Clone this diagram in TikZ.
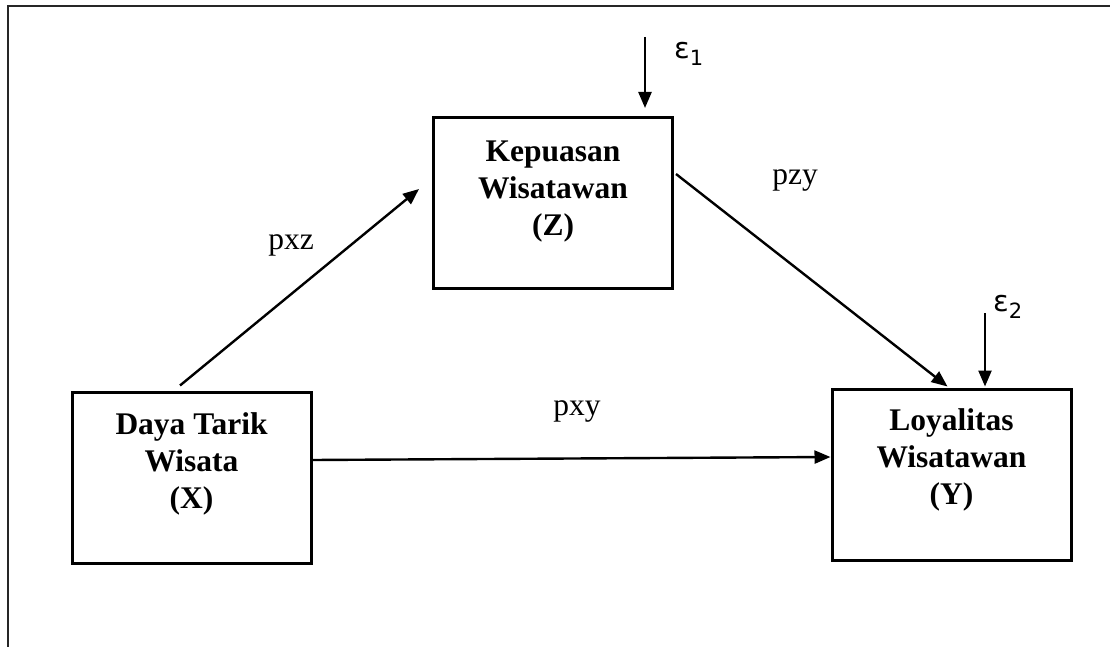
\documentclass[tikz,border=0pt]{standalone}
\usepackage{fontspec}
\setmainfont{Liberation Serif}
\newfontfamily\epsfont{DejaVu Sans}
\usepackage{tikz}
\usetikzlibrary{                          % TikZ libraries
                positioning,              % .
                arrows.meta,              % .
                calc}

\newcommand{\epsi}[1]{{\epsfont\fontsize{29}{29}\selectfont ε\raisebox{-7pt}{\fontsize{21}{21}\selectfont #1}}}

\begin{document}
\begin{tikzpicture}[x=1pt,y=-1pt
                    ]
                % define styles
\tikzset{var/.style={rectangle,
                       draw=black,
                       line width=3pt,
                       minimum width=239pt,
                       minimum height=171pt,
                       inner sep=0,
                       },
         vartext/.style={align=center,
                       inner sep=0,
                       font=\bfseries\fontsize{31.5}{37}\selectfont,
                       },
         path/.style={line width=2.4pt,
                       -{Triangle[length=16pt,width=13pt]},
                       },
         coef/.style={anchor=base,
                       inner sep=0,
                       font=\fontsize{31.5}{37}\selectfont,
                       }
}

% frame
\useasboundingbox (0,0) rectangle (1110,647);
\draw[line width=2.4pt,black!85] (8,647) -- (8,6) -- (1110,6);

% nodes
\node[var]   (X) at (191.5,477.5) {};
\node[var]   (Z) at (553,203)     {};
\node[var]   (Y) at (951.5,474.5) {};

\node[vartext, below=22pt of X.north, anchor=north] (Xtext) {Daya Tarik\\Wisata\\(X)};
\node[vartext, below=25pt of Z.north, anchor=north] (Ztext) {Kepuasan\\Wisatawan\\(Z)};
\node[vartext, below=21pt of Y.north, anchor=north] (Ytext) {Loyalitas\\Wisatawan\\(Y)};

% error terms
\coordinate (e1top) at (645,37);
\coordinate (e2top) at (985,313);
\node[anchor=base west, inner sep=0] (e1) at (674,59)  {\epsi{1}};
\node[anchor=base west, inner sep=0] (e2) at (993,311) {\epsi{2}};

% paths
\draw[path] ([xshift=-11.5pt,yshift=5pt]X.north) -- ([xshift=-13pt,yshift=14pt]Z.west);
\draw[path] ([xshift=2pt,yshift=29pt]Z.east) -- ([xshift=-4pt,yshift=1pt]Y.north);
\draw[path] ([yshift=17.5pt]X.east) -- ([yshift=17.5pt]Y.west);
\draw[path] (e1top) -- ($(e1top |- Z.north)+(0,-8)$);
\draw[path] (e2top) -- ($(e2top |- Y.north)+(0,-1)$);

% labels
\node[coef] (pxz) at (291,249) {pxz};
\node[coef] (pzy) at (795,185) {pzy};
\node[coef] (pxy) at (577,415) {pxy};

\end{tikzpicture}
\end{document}
